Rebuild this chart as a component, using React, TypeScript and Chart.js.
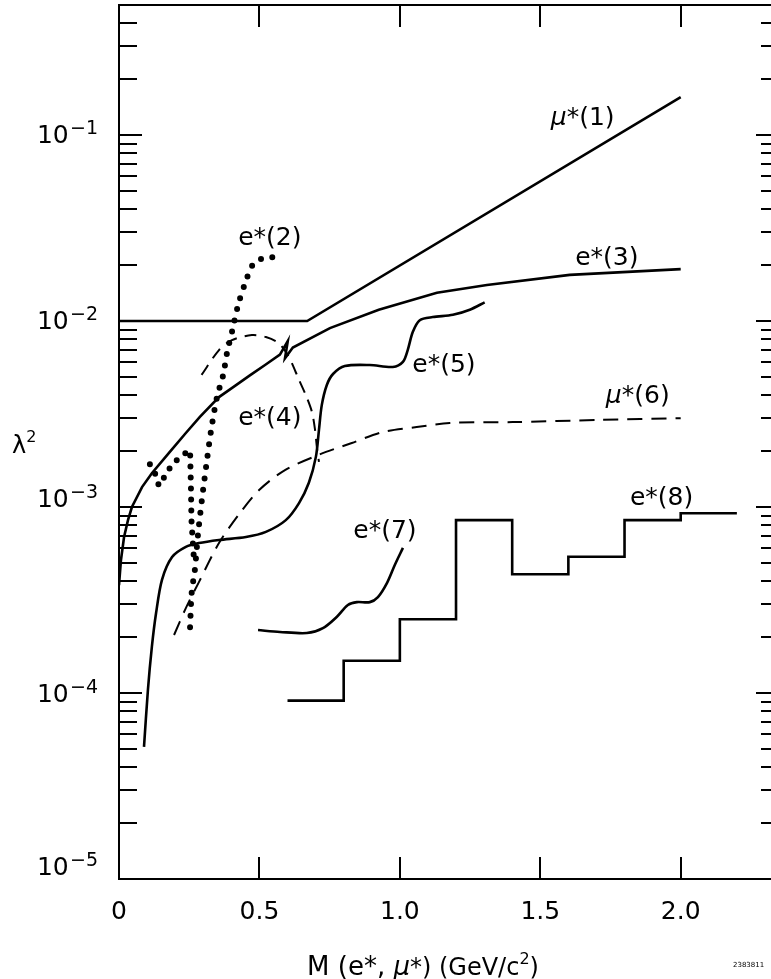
import React, { useEffect, useRef } from 'react';
import { Chart, registerables } from 'chart.js';

Chart.register(...registerables);

// ---------------- data ----------------
const mu1X = [0, 0.67, 2.0];
const mu1Y = [0.01, 0.01, 0.16];

const e2MainX = [0.253, 0.259, 0.270, 0.281, 0.295, 0.310, 0.327, 0.349, 0.371, 0.385, 0.403, 0.423, 0.448, 0.480, 0.516, 0.555];
const e2MainY = [2.26e-4, 3.49e-4, 4.58e-4, 7.06e-4, 1.09e-3, 1.64e-3, 2.53e-3, 3.9e-3, 5.13e-3, 6.8e-3, 8.83e-3, 1.2e-2, 1.58e-2, 2.05e-2, 2.18e-2, 2.21e-2];

const e2BranchX = [0.110, 0.128, 0.142, 0.164, 0.185, 0.217, 0.253, 0.256, 0.258, 0.263, 0.267];
const e2BranchY = [1.70e-3, 1.52e-3, 1.30e-3, 1.47e-3, 1.66e-3, 1.86e-3, 2.02e-3, 1.30e-3, 8.5e-4, 6.4e-4, 5.19e-4];

const e3X = [0, 0.007, 0.018, 0.032, 0.046, 0.082, 0.117, 0.181, 0.238, 0.288, 0.356, 0.413, 0.466, 0.520, 0.573, 0.601, 0.591, 0.619, 0.751, 0.925, 1.132, 1.310, 1.605, 2.0];
const e3Y = [3.8e-4, 5.19e-4, 6.9e-4, 8.5e-4, 1.0e-3, 1.28e-3, 1.52e-3, 1.98e-3, 2.5e-3, 3.05e-3, 3.9e-3, 4.48e-3, 5.1e-3, 5.8e-3, 6.6e-3, 7.8e-3, 6.3e-3, 7.2e-3, 9.16e-3, 1.15e-2, 1.42e-2, 1.56e-2, 1.77e-2, 1.9e-2];

const e4X = [0.294, 0.356, 0.402, 0.473, 0.523, 0.569, 0.605, 0.641, 0.665, 0.687, 0.698, 0.705, 0.712];
const e4Y = [5.13e-3, 6.98e-3, 7.9e-3, 8.4e-3, 8.2e-3, 7.6e-3, 6.4e-3, 4.82e-3, 4.0e-3, 3.24e-3, 2.6e-3, 2.07e-3, 1.75e-3];

const e5X = [0.089, 0.103, 0.117, 0.132, 0.153, 0.189, 0.238, 0.285, 0.356, 0.452, 0.523, 0.594, 0.641, 0.676, 0.701, 0.712, 0.722, 0.740, 0.762, 0.804, 0.893, 0.975, 1.011, 1.028, 1.046, 1.071, 1.117, 1.189, 1.249, 1.302];
const e5Y = [5.13e-5, 1.04e-4, 1.77e-4, 2.69e-4, 4.06e-4, 5.38e-4, 6.1e-4, 6.4e-4, 6.65e-4, 6.9e-4, 7.35e-4, 8.5e-4, 1.05e-3, 1.35e-3, 1.86e-3, 2.6e-3, 3.53e-3, 4.53e-3, 5.19e-3, 5.73e-3, 5.8e-3, 5.66e-3, 6.03e-3, 6.98e-3, 8.73e-3, 1.01e-2, 1.05e-2, 1.08e-2, 1.15e-2, 1.26e-2];

const mu6X = [0.196, 0.238, 0.285, 0.356, 0.431, 0.498, 0.591, 0.712, 0.829, 0.940, 1.060, 1.178, 1.402, 1.712, 2.0];
const mu6Y = [2.05e-4, 2.86e-4, 3.96e-4, 6.4e-4, 9.3e-4, 1.23e-3, 1.58e-3, 1.91e-3, 2.21e-3, 2.53e-3, 2.69e-3, 2.83e-3, 2.86e-3, 2.94e-3, 3.0e-3];

const e7X = [0.495, 0.573, 0.669, 0.726, 0.776, 0.815, 0.847, 0.893, 0.922, 0.954, 0.982, 1.011];
const e7Y = [2.18e-4, 2.13e-4, 2.1e-4, 2.23e-4, 2.57e-4, 2.97e-4, 3.08e-4, 3.08e-4, 3.28e-4, 3.9e-4, 4.88e-4, 6.03e-4];

const e8Edges = [0.6, 0.8, 1.0, 1.2, 1.4, 1.6, 1.8, 2.0, 2.2];
const e8Values = [9.1e-5, 1.49e-4, 2.49e-4, 8.5e-4, 4.35e-4, 5.4e-4, 8.5e-4, 9.25e-4];

const xTickValues = [0, 0.5, 1.0, 1.5, 2.0];
const xTickLabels = ['0', '0.5', '1.0', '1.5', '2.0'];
const yDecades = [-5, -4, -3, -2, -1];
const yDecadeLabels = ['\u22125', '\u22124', '\u22123', '\u22122', '\u22121'];

// ---------------- layout / style ----------------
const W = 790;
const H = 979;
const FONT = '"DejaVu Sans", sans-serif';
const yLabelBaselineOffset = [-4, 9, 0, 8, 8];

type Run = { t: string; size?: number; italic?: boolean; dy?: number };

const annotations: { runs: Run[]; x: number; y: number }[] = [
  { runs: [{ t: '\u03bc', italic: true }, { t: '*(1)' }], x: 1.651, y: 0.125 },
  { runs: [{ t: 'e*(2)' }], x: 0.537, y: 0.0283 },
  { runs: [{ t: 'e*(3)' }], x: 1.737, y: 0.0221 },
  { runs: [{ t: 'e*(4)' }], x: 0.537, y: 3.05e-3 },
  { runs: [{ t: 'e*(5)' }], x: 1.157, y: 5.88e-3 },
  { runs: [{ t: '\u03bc', italic: true }, { t: '*(6)' }], x: 1.847, y: 4.0e-3 },
  { runs: [{ t: 'e*(7)' }], x: 0.947, y: 7.5e-4 },
  { runs: [{ t: 'e*(8)' }], x: 1.932, y: 1.13e-3 },
];

const pts = (xs: number[], ys: number[]) => xs.map((x, i) => ({ x, y: ys[i] }));

function fontOf(r: Run, base: number) {
  return `${r.italic ? 'italic ' : ''}${r.size ?? base}px ${FONT}`;
}

function drawRuns(ctx: CanvasRenderingContext2D, runs: Run[], x: number, y: number, align: 'left' | 'center' | 'right', base: number) {
  let total = 0;
  const widths = runs.map((r) => {
    ctx.font = fontOf(r, base);
    const w = ctx.measureText(r.t).width;
    total += w;
    return w;
  });
  let cx = align === 'center' ? x - total / 2 : align === 'right' ? x - total : x;
  ctx.textAlign = 'left';
  ctx.textBaseline = 'alphabetic';
  runs.forEach((r, i) => {
    ctx.font = fontOf(r, base);
    ctx.fillText(r.t, cx, y + (r.dy ?? 0));
    cx += widths[i];
  });
}

const framePlugin = {
  id: 'framePlugin',
  afterDatasetsDraw(chart: any) {
    const ctx: CanvasRenderingContext2D = chart.ctx;
    const { left, right, top, bottom } = chart.chartArea;
    const xs = chart.scales.x;
    const ys = chart.scales.y;
    ctx.save();
    ctx.strokeStyle = '#000';
    ctx.fillStyle = '#000';
    ctx.lineWidth = 2;
    ctx.strokeRect(left, top, right - left, bottom - top);

    // y ticks (both sides, inward)
    ctx.lineWidth = 2;
    yDecades.forEach((e) => {
      for (let m = 1; m <= 9; m++) {
        const v = m * Math.pow(10, e);
        if (v > ys.max * 1.0001) break;
        const py = Math.round(ys.getPixelForValue(v));
        const len = m === 1 ? 23 : 18;
        ctx.beginPath();
        ctx.moveTo(left, py);
        ctx.lineTo(left + len, py);
        ctx.moveTo(right - len, py);
        ctx.lineTo(right, py);
        ctx.stroke();
      }
    });
    // x ticks (top and bottom, inward)
    xTickValues.forEach((v) => {
      if (v === 0) return;
      const px = Math.round(xs.getPixelForValue(v));
      ctx.beginPath();
      ctx.moveTo(px, bottom);
      ctx.lineTo(px, bottom - 22);
      ctx.moveTo(px, top);
      ctx.lineTo(px, top + 22);
      ctx.stroke();
    });

    // x tick labels
    xTickValues.forEach((v, i) => {
      const px = xs.getPixelForValue(v);
      drawRuns(ctx, [{ t: xTickLabels[i] }], px, 919, 'center', 25);
    });

    // y tick labels 10^k
    yDecades.forEach((e, i) => {
      const py = ys.getPixelForValue(Math.pow(10, e)) + yLabelBaselineOffset[i];
      drawRuns(ctx, [{ t: '10', size: 25 }, { t: ' ', size: 4 }, { t: yDecadeLabels[i], size: 19, dy: -9 }], 98, py, 'right', 25);
    });

    // axis titles
    drawRuns(ctx, [{ t: '\u03bb', size: 24 }, { t: '2', size: 16, dy: -11 }], 12, 453, 'left', 24);
    drawRuns(
      ctx,
      [
        { t: 'M (e*, ', size: 26 },
        { t: '\u03bc', size: 26, italic: true },
        { t: '*) (GeV/c', size: 24 },
        { t: '2', size: 16, dy: -11 },
        { t: ')', size: 24 },
      ],
      423,
      975,
      'center',
      25
    );

    // curve labels
    annotations.forEach((a) => {
      const px = xs.getPixelForValue(a.x);
      const py = ys.getPixelForValue(a.y) + 8;
      drawRuns(ctx, a.runs, px, py, 'center', 25);
    });

    // plate number
    drawRuns(ctx, [{ t: '2383811', size: 7 }], 733, 967, 'left', 7);
    ctx.restore();
  },
};

export default function App() {
  const ref = useRef<HTMLCanvasElement | null>(null);
  useEffect(() => {
    if (!ref.current) return;
    const solid = { borderColor: '#000', pointRadius: 0, fill: false, borderWidth: 2.6 };
    const chart = new Chart(ref.current, {
      type: 'line',
      data: {
        datasets: [
          { label: 'μ*(1)', data: pts(mu1X, mu1Y), ...solid, tension: 0 },
          { label: 'e*(2)', data: pts(e2MainX, e2MainY), borderColor: '#000', pointRadius: 0, borderWidth: 6, borderDash: [0, 11.5], borderCapStyle: 'round', tension: 0.3 } as any,
          { label: 'e*(2) branch', data: pts(e2BranchX, e2BranchY), borderColor: '#000', pointRadius: 0, borderWidth: 6, borderDash: [0, 11], borderCapStyle: 'round', tension: 0 } as any,
          { label: 'e*(3)', data: pts(e3X, e3Y), ...solid, tension: 0 },
          { label: 'e*(4)', data: pts(e4X, e4Y), borderColor: '#000', pointRadius: 0, borderWidth: 2, borderDash: [12, 8], tension: 0.3 },
          { label: 'e*(5)', data: pts(e5X, e5Y), ...solid, tension: 0.3 },
          { label: 'μ*(6)', data: pts(mu6X, mu6Y), borderColor: '#000', pointRadius: 0, borderWidth: 2, borderDash: [15, 9], tension: 0.3 },
          { label: 'e*(7)', data: pts(e7X, e7Y), ...solid, tension: 0.3 },
          {
            label: 'e*(8)',
            data: e8Edges.map((x, i) => ({ x, y: e8Values[Math.min(i, e8Values.length - 1)] })),
            ...solid,
            stepped: 'before',
          } as any,
        ],
      },
      options: {
        animation: false,
        responsive: false,
        devicePixelRatio: 1,
        layout: { padding: { left: 119, top: 5, right: W - 779, bottom: H - 879 } },
        plugins: { legend: { display: false }, tooltip: { enabled: false }, title: { display: false } },
        scales: {
          x: { type: 'linear', min: 0, max: 2.35, display: false },
          y: { type: 'logarithmic', min: 1e-5, max: 0.5, display: false },
        },
      },
      plugins: [framePlugin],
    });
    return () => chart.destroy();
  }, []);
  return (
    <div style={{ position: 'absolute', left: 0, top: 0, width: 771, height: H, overflow: 'hidden', background: '#fff' }}>
      <canvas ref={ref} width={W} height={H} style={{ width: W, height: H, display: 'block' }} />
    </div>
  );
}
